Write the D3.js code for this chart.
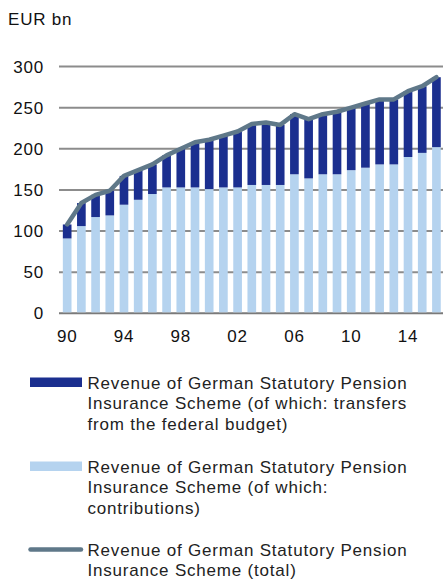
<!DOCTYPE html>
<html>
<head>
<meta charset="utf-8">
<script src="https://cdn.jsdelivr.net/npm/d3@7"></script>
<style>
  body { margin: 0; background: #fff; }
  svg { display: block; font-family: "Liberation Sans", Arial, sans-serif; }
</style>
</head>
<body>
<script>
// years 1990 - 2016
let years = [1990,1991,1992,1993,1994,1995,1996,1997,1998,1999,2000,2001,2002,2003,
             2004,2005,2006,2007,2008,2009,2010,2011,2012,2013,2014,2015,2016];
let tickYears = [1990,1994,1998,2002,2006,2010,2014];
let yTicks = [0,50,100,150,200,250,300];

// EUR bn
let contributions = [91,106,117,119,132,138,145,153,153,153,151,153,153,156,
                     156,156,169,164,169,169,174,177,181,181,190,195,202];
let total = [108,134,144,149,167,174,181,192,200,208,211,216,221,230,
             232,229,242,236,242,245,250,255,260,260,270,276,287];

let legendLabels = [
  ["Revenue of German Statutory Pension", "Insurance Scheme (of which: transfers", "from the federal budget)"],
  ["Revenue of German Statutory Pension", "Insurance Scheme (of which:", "contributions)"],
  ["Revenue of German Statutory Pension", "Insurance Scheme (total)"]
];

const width = 443, height = 580;
const darkBlue = "#1b2f8f", lightBlue = "#b5d3ef", lineCol = "#5f7889";

const svg = d3.select("body").append("svg")
  .attr("width", width)
  .attr("height", height);

const x = d3.scaleBand()
  .domain(years)
  .range([60, 443.6])
  .paddingInner(0.39)
  .paddingOuter(0.2);

const y = d3.scaleLinear()
  .domain([0, 300])
  .range([313.3, 66.5]);

// unit label
svg.append("text")
  .attr("x", 8)
  .attr("y", 25)
  .attr("font-size", "17px")
  .attr("letter-spacing", "0.8px")
  .attr("fill", "#111")
  .text("EUR bn");

// gridlines
svg.selectAll(".grid")
  .data(yTicks)
  .enter()
  .append("line")
  .attr("x1", 59)
  .attr("x2", width)
  .attr("y1", function(d) { return y(d); })
  .attr("y2", function(d) { return y(d); })
  .attr("stroke", function(d) { return d === 0 ? "#7a7a7a" : "#8c8c8c"; })
  .attr("stroke-width", 2);

// y labels
svg.selectAll(".ylab")
  .data(yTicks)
  .enter()
  .append("text")
  .attr("x", 44)
  .attr("y", function(d) { return y(d); })
  .attr("dy", "0.36em")
  .attr("text-anchor", "end")
  .attr("font-size", "17px")
  .attr("letter-spacing", "0.8px")
  .attr("fill", "#111")
  .text(function(d) { return d; });

// contributions (light)
svg.selectAll(".contrib")
  .data(years)
  .enter()
  .append("rect")
  .attr("x", function(d) { return x(d); })
  .attr("width", x.bandwidth())
  .attr("y", function(d, i) { return y(contributions[i]); })
  .attr("height", function(d, i) { return y(0) - y(contributions[i]) - 1; })
  .attr("fill", lightBlue);

// transfers from federal budget (dark)
svg.selectAll(".transfer")
  .data(years)
  .enter()
  .append("rect")
  .attr("x", function(d) { return x(d); })
  .attr("width", x.bandwidth())
  .attr("y", function(d, i) { return y(total[i]); })
  .attr("height", function(d, i) { return y(contributions[i]) - y(total[i]); })
  .attr("fill", darkBlue);

// total line
const line = d3.line()
  .x(function(d, i) { return x(years[i]) + x.bandwidth() / 2; })
  .y(function(d) { return y(d); });

svg.append("path")
  .datum(total)
  .attr("d", line)
  .attr("fill", "none")
  .attr("stroke", lineCol)
  .attr("stroke-width", 4.5)
  .attr("stroke-linejoin", "round")
  .attr("stroke-linecap", "round");

// x labels
svg.selectAll(".xlab")
  .data(tickYears)
  .enter()
  .append("text")
  .attr("x", function(d) { return x(d) + x.bandwidth() / 2; })
  .attr("y", 341.5)
  .attr("text-anchor", "middle")
  .attr("font-size", "17px")
  .attr("letter-spacing", "0.8px")
  .attr("fill", "#111")
  .text(function(d) { return String(d).slice(2); });

// legend
let legendY = [388.5, 472.5, 556];
legendLabels.forEach(function(lines, k) {
  let g = svg.append("g").attr("transform", "translate(0," + legendY[k] + ")");
  if (k < 2) {
    g.append("rect")
      .attr("x", 30)
      .attr("y", -11)
      .attr("width", 52)
      .attr("height", 9.5)
      .attr("fill", k === 0 ? darkBlue : lightBlue);
  } else {
    g.append("line")
      .attr("x1", 30.5)
      .attr("x2", 81)
      .attr("y1", -6.5)
      .attr("y2", -6.5)
      .attr("stroke", lineCol)
      .attr("stroke-width", 4.5)
      .attr("stroke-linecap", "round");
  }
  g.selectAll("text")
    .data(lines)
    .enter()
    .append("text")
    .attr("x", 87.5)
    .attr("y", function(d, i) { return i * (k === 2 ? 20 : 20.8); })
    .attr("font-size", "17px")
    .attr("letter-spacing", "0.8px")
    .attr("fill", "#222")
    .text(function(d) { return d; });
});
</script>
</body>
</html>
